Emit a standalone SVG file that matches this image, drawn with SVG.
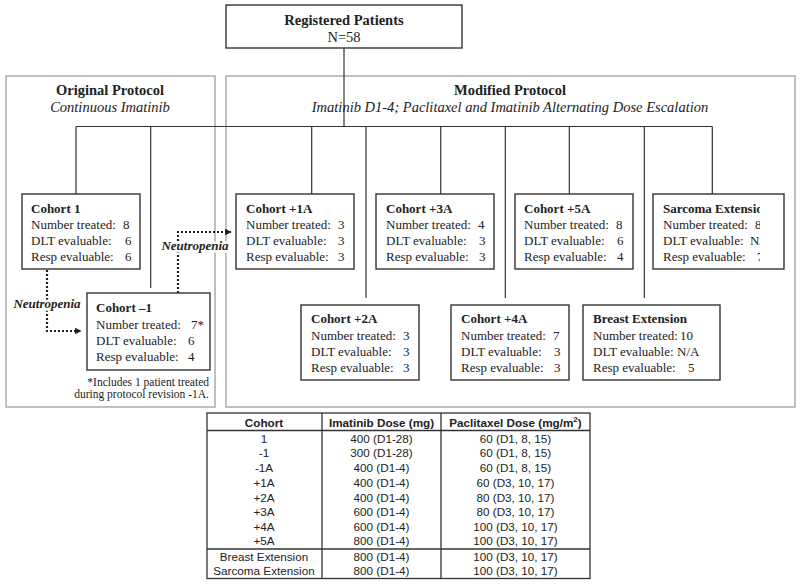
<svg xmlns="http://www.w3.org/2000/svg" width="800" height="584" viewBox="0 0 800 584">
<defs>
<style>
.serif{font-family:"Liberation Serif","Times New Roman",serif;fill:#222}
.t{font-size:13px}
.b{font-weight:bold}
.i{font-style:italic}
.h{font-size:14.5px}
.box{fill:#fff;stroke:#333;stroke-width:1.4}
.proto{fill:none;stroke:#aaa;stroke-width:1.5}
.ln{fill:none;stroke:#333;stroke-width:1.2}
.dot{fill:none;stroke:#222;stroke-width:2.2;stroke-dasharray:2 2}
.halo{stroke:#fff;stroke-width:5;paint-order:stroke;stroke-linejoin:round}
.tb{font-family:"Liberation Sans",Arial,sans-serif;font-size:11.7px;fill:#222;text-anchor:middle}
.tl{fill:none;stroke:#333;stroke-width:1.3}
</style>
<marker id="ah" viewBox="0 0 10 10" refX="9" refY="5" markerWidth="3" markerHeight="3" orient="auto" markerUnits="strokeWidth">
<path d="M0,0 L10,5 L0,10 z" fill="#222"/>
</marker>
<clipPath id="sarcClip"><rect x="653" y="194" width="107" height="75"/></clipPath>
</defs>

<!-- protocol panels -->
<g id="original-protocol">
<rect class="proto" x="6" y="76" width="209" height="331"/>
<text class="serif h b" x="110" y="95" text-anchor="middle">Original Protocol</text>
<text class="serif h i" x="110" y="112" text-anchor="middle">Continuous Imatinib</text>
</g>
<g id="modified-protocol">
<rect class="proto" x="226" y="76" width="569" height="331"/>
</g>

<!-- connectors -->
<g id="connectors">
<line class="ln" x1="344" y1="48" x2="344" y2="126.5"/>
<line class="ln" x1="76" y1="126.5" x2="712.5" y2="126.5"/>
<line class="ln" x1="76" y1="126.5" x2="76" y2="194"/>
<line class="ln" x1="150.7" y1="126.5" x2="150.7" y2="288"/>
<line class="ln" x1="311.7" y1="126.5" x2="311.7" y2="194"/>
<line class="ln" x1="366" y1="126.5" x2="366" y2="298"/>
<line class="ln" x1="440.7" y1="126.5" x2="440.7" y2="194"/>
<line class="ln" x1="505.3" y1="126.5" x2="505.3" y2="298"/>
<line class="ln" x1="569.3" y1="126.5" x2="569.3" y2="194"/>
<line class="ln" x1="644.3" y1="126.5" x2="644.3" y2="298"/>
<line class="ln" x1="712.3" y1="126.5" x2="712.3" y2="194"/>
<path class="dot" d="M47,270 V331 H81" marker-end="url(#ah)"/>
<path class="dot" d="M178,293 V232 H231" marker-end="url(#ah)"/>
<text class="serif t b i halo" x="47" y="308" text-anchor="middle">Neutropenia</text>
<text class="serif t b i halo" x="195" y="250" text-anchor="middle">Neutropenia</text>
</g>

<g id="modified-protocol-labels">
<text class="serif h b" x="510" y="95" text-anchor="middle">Modified Protocol</text>
<text class="serif h i" x="510" y="112" text-anchor="middle">Imatinib D1-4; Paclitaxel and Imatinib Alternating Dose Escalation</text>
</g>

<g id="registered">
<rect class="box" x="226" y="5" width="236" height="43"/>
<text class="serif h b" x="344" y="24.5" text-anchor="middle">Registered Patients</text>
<text class="serif h" x="344" y="41.5" text-anchor="middle">N=58</text>
</g>

<g id="cohort-1">
<rect class="box" x="22" y="194" width="118" height="75"/>
<text class="serif t b" x="31" y="212.5">Cohort 1</text>
<text class="serif t" x="31" y="229">Number treated:<tspan x="123">8</tspan></text>
<text class="serif t" x="31" y="245">DLT evaluable:<tspan x="125">6</tspan></text>
<text class="serif t" x="31" y="261">Resp evaluable:<tspan x="125">6</tspan></text>
</g>

<g id="cohort-minus-1">
<rect class="box" x="87" y="293" width="123" height="77"/>
<text class="serif t b" x="96" y="312">Cohort –1</text>
<text class="serif t" x="96" y="328.5">Number treated:<tspan x="191">7*</tspan></text>
<text class="serif t" x="96" y="344.5">DLT evaluable:<tspan x="188">6</tspan></text>
<text class="serif t" x="96" y="360.5">Resp evaluable:<tspan x="188">4</tspan></text>
<text class="serif" font-size="11.5" x="209" y="385.5" text-anchor="end">*Includes 1 patient treated</text>
<text class="serif" font-size="11.5" x="209" y="397.5" text-anchor="end">during protocol revision -1A.</text>
</g>

<g id="cohort-plus-1a">
<rect class="box" x="236" y="194" width="118" height="75"/>
<text class="serif t b" x="246" y="212.5">Cohort +1A</text>
<text class="serif t" x="246" y="229">Number treated:<tspan x="338">3</tspan></text>
<text class="serif t" x="246" y="245">DLT evaluable:<tspan x="338">3</tspan></text>
<text class="serif t" x="246" y="261">Resp evaluable:<tspan x="338">3</tspan></text>
</g>

<g id="cohort-plus-3a">
<rect class="box" x="376" y="194" width="118" height="75"/>
<text class="serif t b" x="386" y="212.5">Cohort +3A</text>
<text class="serif t" x="386" y="229">Number treated:<tspan x="478">4</tspan></text>
<text class="serif t" x="386" y="245">DLT evaluable:<tspan x="479">3</tspan></text>
<text class="serif t" x="386" y="261">Resp evaluable:<tspan x="479">3</tspan></text>
</g>

<g id="cohort-plus-5a">
<rect class="box" x="515" y="194" width="118" height="75"/>
<text class="serif t b" x="524" y="212.5">Cohort +5A</text>
<text class="serif t" x="524" y="229">Number treated:<tspan x="616">8</tspan></text>
<text class="serif t" x="524" y="245">DLT evaluable:<tspan x="617">6</tspan></text>
<text class="serif t" x="524" y="261">Resp evaluable:<tspan x="617">4</tspan></text>
</g>

<g id="sarcoma-extension">
<rect class="box" x="653" y="194" width="131" height="75"/>
<g clip-path="url(#sarcClip)">
<text class="serif t b" x="663" y="212.5">Sarcoma Extension</text>
<text class="serif t" x="663" y="229">Number treated:<tspan x="755">8</tspan></text>
<text class="serif t" x="663" y="245">DLT evaluable:<tspan x="750">N/A</tspan></text>
<text class="serif t" x="663" y="261">Resp evaluable:<tspan x="757">7</tspan></text>
</g>
</g>

<g id="cohort-plus-2a">
<rect class="box" x="301" y="305" width="118" height="75"/>
<text class="serif t b" x="311" y="323">Cohort +2A</text>
<text class="serif t" x="311" y="339.5">Number treated:<tspan x="403">3</tspan></text>
<text class="serif t" x="311" y="355.5">DLT evaluable:<tspan x="403">3</tspan></text>
<text class="serif t" x="311" y="371.5">Resp evaluable:<tspan x="403">3</tspan></text>
</g>

<g id="cohort-plus-4a">
<rect class="box" x="451" y="305" width="118" height="75"/>
<text class="serif t b" x="461" y="323">Cohort +4A</text>
<text class="serif t" x="461" y="339.5">Number treated:<tspan x="553">7</tspan></text>
<text class="serif t" x="461" y="355.5">DLT evaluable:<tspan x="554">3</tspan></text>
<text class="serif t" x="461" y="371.5">Resp evaluable:<tspan x="554">3</tspan></text>
</g>

<g id="breast-extension">
<rect class="box" x="583" y="305" width="137" height="75"/>
<text class="serif t b" x="593" y="323">Breast Extension</text>
<text class="serif t" x="593" y="339.5">Number treated:<tspan x="680">10</tspan></text>
<text class="serif t" x="593" y="355.5">DLT evaluable:<tspan x="677">N/A</tspan></text>
<text class="serif t" x="593" y="371.5">Resp evaluable:<tspan x="688">5</tspan></text>
</g>

<!-- dose table -->
<g id="dose-table">
<rect class="tl" x="207" y="413" width="383" height="165.5" stroke-width="1.6"/>
<line class="tl" x1="207" y1="430.5" x2="590" y2="430.5" stroke-width="1.6"/>
<line class="tl" x1="207" y1="549" x2="590" y2="549"/>
<line class="tl" x1="322" y1="413" x2="322" y2="578.5"/>
<line class="tl" x1="441" y1="413" x2="441" y2="578.5"/>
<g font-weight="bold" font-size="12">
<text class="tb" x="264" y="426.5" font-size="12">Cohort</text>
<text class="tb" x="381.5" y="426.5" font-size="12">Imatinib Dose (mg)</text>
<text class="tb" x="515.5" y="426.5" font-size="12">Paclitaxel Dose (mg/m<tspan font-size="8" dy="-5">2</tspan><tspan dy="5">)</tspan></text>
</g>
<g>
<text class="tb" x="264" y="442.5">1</text><text class="tb" x="381.5" y="442.5">400 (D1-28)</text><text class="tb" x="515.5" y="442.5">60 (D1, 8, 15)</text>
<text class="tb" x="264" y="457">-1</text><text class="tb" x="381.5" y="457">300 (D1-28)</text><text class="tb" x="515.5" y="457">60 (D1, 8, 15)</text>
<text class="tb" x="264" y="472">-1A</text><text class="tb" x="381.5" y="472">400 (D1-4)</text><text class="tb" x="515.5" y="472">60 (D1, 8, 15)</text>
<text class="tb" x="264" y="486.8">+1A</text><text class="tb" x="381.5" y="486.8">400 (D1-4)</text><text class="tb" x="515.5" y="486.8">60 (D3, 10, 17)</text>
<text class="tb" x="264" y="501.6">+2A</text><text class="tb" x="381.5" y="501.6">400 (D1-4)</text><text class="tb" x="515.5" y="501.6">80 (D3, 10, 17)</text>
<text class="tb" x="264" y="516">+3A</text><text class="tb" x="381.5" y="516">600 (D1-4)</text><text class="tb" x="515.5" y="516">80 (D3, 10, 17)</text>
<text class="tb" x="264" y="530.8">+4A</text><text class="tb" x="381.5" y="530.8">600 (D1-4)</text><text class="tb" x="515.5" y="530.8">100 (D3, 10, 17)</text>
<text class="tb" x="264" y="545.2">+5A</text><text class="tb" x="381.5" y="545.2">800 (D1-4)</text><text class="tb" x="515.5" y="545.2">100 (D3, 10, 17)</text>
<text class="tb" x="264" y="561">Breast Extension</text><text class="tb" x="381.5" y="561">800 (D1-4)</text><text class="tb" x="515.5" y="561">100 (D3, 10, 17)</text>
<text class="tb" x="264" y="575.3">Sarcoma Extension</text><text class="tb" x="381.5" y="575.3">800 (D1-4)</text><text class="tb" x="515.5" y="575.3">100 (D3, 10, 17)</text>
</g>
</g>
</svg>
